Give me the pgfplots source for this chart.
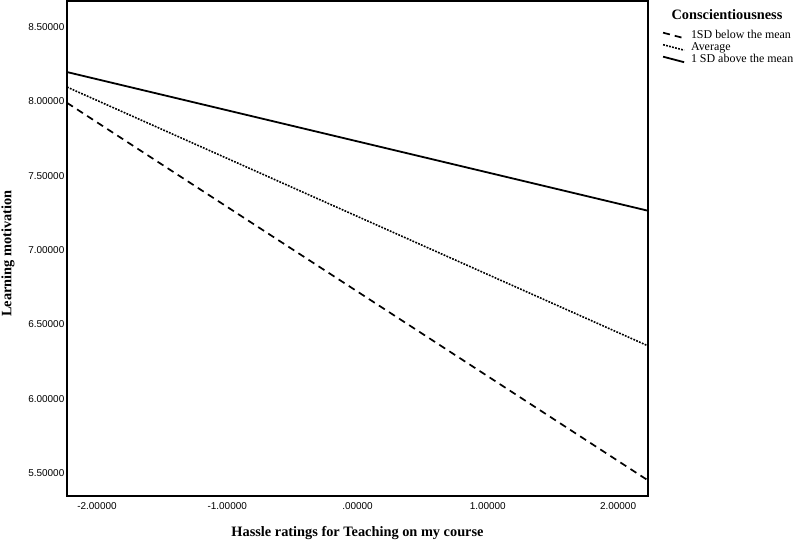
\documentclass[border=0pt]{standalone}
\usepackage{pgfplots}
\pgfplotsset{compat=1.18}
\usepackage{fontspec}
\setmainfont{Liberation Serif}
\setsansfont{Liberation Sans}

\begin{document}
\begin{tikzpicture}
\useasboundingbox (0,0) rectangle (793bp,541bp);
\begin{axis}[
    name=ax,
    at={(67bp,45bp)}, anchor=south west,
    scale only axis,
    width=581bp, height=495bp,
    xmin=-2.23, xmax=2.23,
    ymin=5.345, ymax=8.675,
    axis line style={line width=1.7bp},
    major tick length=0pt,
    xtick={-2,-1,0,1,2},
    xticklabels={-2.00000,-1.00000,.00000,1.00000,2.00000},
    ytick={5.5,6,6.5,7,7.5,8,8.5},
    yticklabels={5.50000,6.00000,6.50000,7.00000,7.50000,8.00000,8.50000},
    tick label style={font=\sffamily\fontsize{10}{12}\selectfont},
    xticklabel style={yshift=-3.5bp},
    yticklabel style={inner sep=2.5bp},
    legend style={draw=none, fill=none, inner sep=0pt,
        at={([xshift=14bp,yshift=-28bp]axis description cs:1,1)}, anchor=north west,
        font=\rmfamily\fontsize{12}{12}\selectfont,
        nodes={inner sep=0pt, text height=9bp, text depth=3bp},
        column sep=6bp, row sep=0pt},
    legend cell align=left,
    legend image code/.code={\draw[#1] (0bp,2.5bp) -- (21bp,-3bp);},
]
% simple slopes, read at the two edges of the x range
\addplot[black, line width=1.7bp, dash pattern=on 7bp off 5bp]
    coordinates {(-2.23,7.990) (2.23,5.450)};
\addlegendentry{1SD below the mean}
\addplot[black, line width=1.6bp, dash pattern=on 1.8bp off 1.3bp]
    coordinates {(-2.23,8.096) (2.23,6.355)};
\addlegendentry{Average}
\addplot[black, line width=1.8bp]
    coordinates {(-2.23,8.197) (2.23,7.264)};
\addlegendentry{1 SD above the mean}
\end{axis}
\node[font=\rmfamily\bfseries\fontsize{14.4}{16}\selectfont] at ([yshift=-37bp]ax.south) {Hassle ratings for Teaching on my course};
\node[font=\rmfamily\bfseries\fontsize{14.4}{16}\selectfont, rotate=90] at ([xshift=-59bp,yshift=-5bp]ax.west) {Learning motivation};
\node[font=\rmfamily\bfseries\fontsize{14.4}{16}\selectfont] at ([xshift=79bp,yshift=-14bp]ax.north east) {Conscientiousness};
\end{tikzpicture}
\end{document}
